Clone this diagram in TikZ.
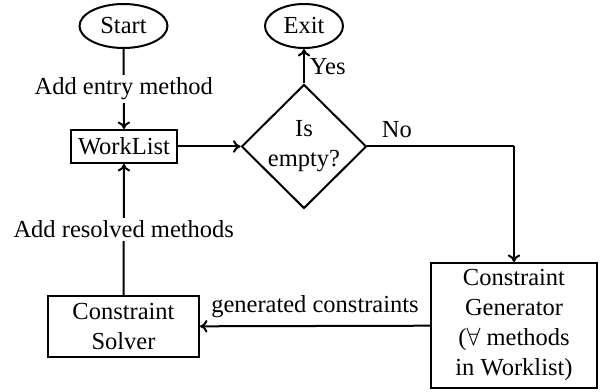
\documentclass[tikz,border=0pt]{standalone}
\usepackage{fontspec}
\setmainfont{Liberation Serif}
\usetikzlibrary{shapes.geometric,arrows.meta}
\begin{document}
\begin{tikzpicture}[x=0.4pt,y=-0.4pt,
  every node/.style={font=\fontsize{9.8}{12}\selectfont},
  line/.style={line width=0.8pt},
  arr/.style={line, -{To[length=3pt,width=5pt]}},
  term/.style={draw, line width=0.8pt, ellipse, inner sep=0pt, minimum height=17.6pt},
  box/.style={draw, line width=0.8pt, rectangle, align=center, inner sep=0pt},
  decision/.style={draw, line width=0.8pt, diamond, align=center, inner sep=0pt, minimum width=50pt, minimum height=49.6pt},
  lab/.style={fill=white, inner sep=1pt}]
\useasboundingbox (0,0) rectangle (609,392);
\node[term, minimum width=35.2pt] (start) at (123.5,26) {Start};
\node[term, minimum width=31.2pt] (exit) at (304,26) {Exit};
\node[box, minimum width=42.4pt, minimum height=13.2pt] (wl) at (124,146.5) {WorkList};
\node[decision] (dec) at (304,146.5) {Is\\empty?};
\node[box, minimum width=66.4pt, minimum height=50pt] (gen) at (514,325.5) {Constraint\\Generator\\($\forall$ methods\\in Worklist)};
\node[box, minimum width=60.4pt, minimum height=24.4pt] (sol) at (123.5,326.5) {Constraint\\Solver};
\coordinate (corner) at (514,146.5);
\draw[arr] (start) -- node[lab] {Add entry method} (wl);
\draw[arr] (wl) -- (dec);
\draw[arr] (dec) -- node[right, inner sep=2pt] {Yes} (exit);
\draw[line] (dec.east) -- node[pos=0.2, above, inner sep=3pt] {No} (corner);
\draw[arr] (corner) -- (gen);
\draw[arr] (gen) -- node[above, inner sep=3pt] {generated constraints} (sol);
\draw[arr] (sol) -- node[lab] {Add resolved methods} (wl);
\end{tikzpicture}
\end{document}
